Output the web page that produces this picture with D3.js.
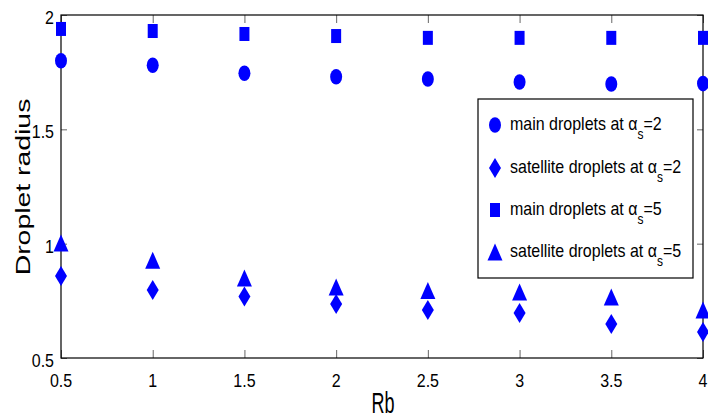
<!DOCTYPE html>
<html>
<head>
<meta charset="utf-8">
<script src="https://cdn.jsdelivr.net/npm/d3@7"></script>
<style>
  html, body { margin: 0; padding: 0; background: #fff; }
  svg { display: block; font-family: "Liberation Sans", Arial, sans-serif; }
</style>
</head>
<body>
<svg id="chart" width="708" height="419"></svg>
<script>
// ---- data ----
const rb = [0.5, 1, 1.5, 2, 2.5, 3, 3.5, 4];
const mainAlpha2 = [1.80, 1.78, 1.745, 1.73, 1.72, 1.707, 1.698, 1.70];
const satAlpha2  = [0.859, 0.797, 0.769, 0.736, 0.71, 0.697, 0.649, 0.614];
const mainAlpha5 = [1.939, 1.93, 1.917, 1.908, 1.90, 1.90, 1.90, 1.90];
const satAlpha5  = [1.003, 0.928, 0.85, 0.81, 0.795, 0.789, 0.767, 0.71];
const xTicks = [0.5, 1, 1.5, 2, 2.5, 3, 3.5, 4];
const yTicks = [0.5, 1, 1.5, 2];
const legendLabels = [
  {pre: "main droplets at α", sub: "s", post: "=2", marker: "circle"},
  {pre: "satellite droplets at α", sub: "s", post: "=2", marker: "diamond"},
  {pre: "main droplets at α", sub: "s", post: "=5", marker: "square"},
  {pre: "satellite droplets at α", sub: "s", post: "=5", marker: "triangle"}
];
const seriesList = [
  {values: mainAlpha2, marker: "circle"},
  {values: satAlpha2, marker: "diamond"},
  {values: mainAlpha5, marker: "square"},
  {values: satAlpha5, marker: "triangle"}
];

// ---- layout ----
const L = 61, R = 703, T = 15, B = 358;
const blue = "#0000ff";
const svg = d3.select("#chart");
const x = d3.scaleLinear().domain([0.5, 4]).range([L, R]);
const y = d3.scaleLinear().domain([0.5, 2]).range([B, T]);
const fmt = d => String(d);

// ticks (inward, all four sides)
const tickLen = 8;
const gb = svg.append("g").attr("transform", `translate(0,${B})`)
  .call(d3.axisBottom(x).tickValues(xTicks).tickSize(-tickLen).tickFormat(""));
const gt = svg.append("g").attr("transform", `translate(0,${T})`)
  .call(d3.axisTop(x).tickValues(xTicks).tickSize(-tickLen).tickFormat(""));
const gl = svg.append("g").attr("transform", `translate(${L},0)`)
  .call(d3.axisLeft(y).tickValues(yTicks).tickSize(-6).tickFormat(""));
const gr = svg.append("g").attr("transform", `translate(${R},0)`)
  .call(d3.axisRight(y).tickValues(yTicks).tickSize(-6).tickFormat(""));
[gb, gt, gl, gr].forEach(g => {
  g.select(".domain").remove();
  g.selectAll(".tick line").attr("stroke", "#666").attr("stroke-width", 1);
});

// box
svg.append("rect").attr("x", L).attr("y", T).attr("width", R - L).attr("height", B - T)
  .attr("fill", "none").attr("stroke", "#000").attr("stroke-width", 1.2);

// tick labels
svg.append("g").selectAll("text").data(xTicks).join("text")
  .attr("transform", d => `translate(${x(d)},${B + 29}) scale(1,1.2)`)
  .attr("text-anchor", "middle").attr("font-size", 16).attr("fill", "#000")
  .text(fmt);
svg.append("g").selectAll("text").data(yTicks).join("text")
  .attr("transform", d => `translate(${L - 7},${y(d) + 9}) scale(1,1.2)`)
  .attr("text-anchor", "end").attr("font-size", 16).attr("fill", "#000")
  .text(fmt);

// axis titles
svg.append("text").attr("transform", `translate(${(L + R) / 2 + 1},412.5) scale(1,1.6)`)
  .attr("text-anchor", "middle").attr("font-size", 18).text("Rb");
svg.append("text").attr("transform", "translate(30,187) rotate(-90) scale(1.42,1)")
  .attr("text-anchor", "middle").attr("font-size", 20).text("Droplet radius");

// markers
function drawMarker(sel, type) {
  if (type === "circle") {
    sel.append("ellipse").attr("rx", 6).attr("ry", 7.8);
  } else if (type === "diamond") {
    sel.append("path").attr("d", "M0,-10L6,0L0,10L-6,0Z");
  } else if (type === "square") {
    sel.append("rect").attr("x", -5).attr("y", -7).attr("width", 10).attr("height", 14);
  } else if (type === "triangle") {
    sel.append("path").attr("d", "M0,-8.5L7.5,8.5L-7.5,8.5Z");
  }
}
seriesList.forEach(s => {
  const g = svg.append("g").attr("fill", blue);
  rb.forEach((r, i) => {
    const m = g.append("g").attr("transform", `translate(${x(r)},${y(s.values[i])})`);
    drawMarker(m, s.marker);
  });
});

// legend
const lg = svg.append("g");
lg.append("rect").attr("x", 478).attr("y", 99).attr("width", 215).attr("height", 179)
  .attr("fill", "#fff").attr("stroke", "#000").attr("stroke-width", 1.2);
const rowY = [125, 168, 210, 252];
legendLabels.forEach((e, i) => {
  const m = lg.append("g").attr("fill", blue).attr("transform", `translate(495,${rowY[i]})`);
  drawMarker(m, e.marker);
  const t = lg.append("text").attr("transform", `translate(510,${rowY[i] + 5}) scale(1,1.2)`)
    .attr("font-size", 16).attr("fill", "#000");
  t.append("tspan").text(e.pre);
  t.append("tspan").attr("font-size", 12).attr("dy", 7.5).text(e.sub);
  t.append("tspan").attr("dy", -7.5).text(e.post);
});
</script>
</body>
</html>
